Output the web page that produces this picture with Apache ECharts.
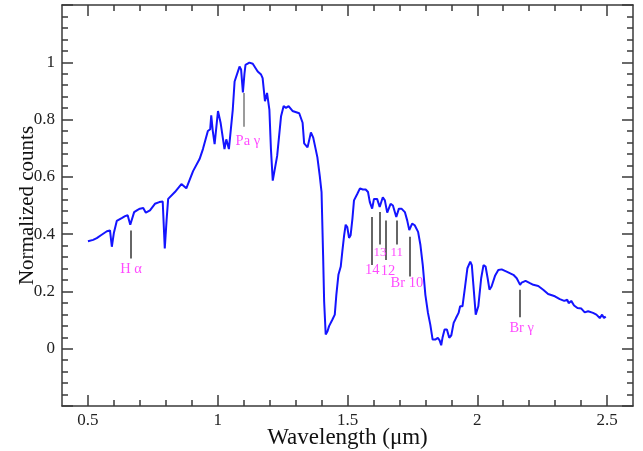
<!DOCTYPE html>
<html>
<head>
<meta charset="utf-8">
<title>Normalized spectrum</title>
<script src="https://cdn.jsdelivr.net/npm/echarts@6/dist/echarts.min.js"></script>
<style>
  html, body { margin: 0; padding: 0; background: #ffffff; }
  #chart { width: 643px; height: 451px; }
</style>
</head>
<body>
<div id="chart"></div>
<script>
// Spectrum: wavelength (µm) and normalized counts
const wavelength = [
  0.500, 0.520, 0.534, 0.550, 0.573, 0.585, 0.592, 0.600, 0.611, 0.630,
  0.643, 0.653, 0.663, 0.678, 0.690, 0.700, 0.713, 0.723, 0.739, 0.758,
  0.775, 0.788, 0.796, 0.803, 0.809, 0.835, 0.860, 0.879, 0.905, 0.930,
  0.943, 0.962, 0.971, 0.975, 0.981, 0.988, 1.001, 1.011, 1.026, 1.033,
  1.043, 1.058, 1.065, 1.084, 1.090, 1.097, 1.103, 1.107, 1.122, 1.135,
  1.154, 1.167, 1.173, 1.182, 1.190, 1.199, 1.205, 1.212, 1.218, 1.229,
  1.235, 1.244, 1.254, 1.263, 1.273, 1.288, 1.314, 1.327, 1.333, 1.346,
  1.359, 1.368, 1.384, 1.393, 1.400, 1.406, 1.410, 1.416, 1.423, 1.429,
  1.436, 1.442, 1.451, 1.457, 1.465, 1.474, 1.480, 1.487, 1.493, 1.499,
  1.506, 1.512, 1.519, 1.525, 1.538, 1.548, 1.559, 1.570, 1.579, 1.586,
  1.595, 1.602, 1.614, 1.624, 1.636, 1.644, 1.653, 1.666, 1.675, 1.688,
  1.698, 1.708, 1.721, 1.730, 1.738, 1.749, 1.759, 1.772, 1.781, 1.790,
  1.800, 1.810, 1.819, 1.828, 1.838, 1.848, 1.855, 1.861, 1.866, 1.874,
  1.883, 1.892, 1.900, 1.909, 1.918, 1.928, 1.934, 1.943, 1.953, 1.962,
  1.973, 1.979, 1.985, 1.994, 2.004, 2.015, 2.024, 2.032, 2.040, 2.047,
  2.055, 2.069, 2.081, 2.094, 2.113, 2.139, 2.152, 2.165, 2.171, 2.186,
  2.203, 2.216, 2.235, 2.254, 2.273, 2.299, 2.318, 2.335, 2.347, 2.352,
  2.362, 2.373, 2.386, 2.401, 2.414, 2.427, 2.446, 2.459, 2.472, 2.481,
  2.488, 2.495
];
const counts = [
  0.375, 0.380, 0.386, 0.396, 0.410, 0.413, 0.356, 0.405, 0.446, 0.456,
  0.463, 0.466, 0.433, 0.477, 0.484, 0.489, 0.491, 0.475, 0.483, 0.506,
  0.512, 0.514, 0.350, 0.450, 0.523, 0.547, 0.575, 0.560, 0.620, 0.662,
  0.697, 0.760, 0.766, 0.815, 0.760, 0.714, 0.830, 0.789, 0.697, 0.731,
  0.697, 0.835, 0.933, 0.985, 0.975, 0.895, 0.960, 0.991, 0.999, 0.995,
  0.968, 0.957, 0.945, 0.864, 0.893, 0.835, 0.697, 0.587, 0.587, 0.673,
  0.668, 0.812, 0.847, 0.841, 0.847, 0.830, 0.822, 0.789, 0.717, 0.703,
  0.755, 0.737, 0.668, 0.604, 0.547, 0.327, 0.165, 0.050, 0.061, 0.079,
  0.075, 0.102, 0.119, 0.188, 0.258, 0.287, 0.339, 0.396, 0.433, 0.425,
  0.387, 0.396, 0.454, 0.518, 0.541, 0.560, 0.556, 0.556, 0.547, 0.512,
  0.489, 0.523, 0.523, 0.495, 0.529, 0.518, 0.475, 0.506, 0.500, 0.460,
  0.489, 0.489, 0.477, 0.448, 0.414, 0.437, 0.431, 0.408, 0.362, 0.292,
  0.188, 0.125, 0.084, 0.032, 0.032, 0.038, 0.029, 0.012, 0.038, 0.067,
  0.067, 0.038, 0.047, 0.090, 0.107, 0.125, 0.148, 0.148, 0.217, 0.281,
  0.304, 0.292, 0.223, 0.119, 0.148, 0.246, 0.292, 0.287, 0.246, 0.206,
  0.217, 0.256, 0.275, 0.277, 0.269, 0.258, 0.246, 0.223, 0.231, 0.237,
  0.229, 0.223, 0.219, 0.206, 0.191, 0.183, 0.173, 0.167, 0.171, 0.159,
  0.167, 0.151, 0.142, 0.140, 0.127, 0.131, 0.125, 0.119, 0.107, 0.119,
  0.107, 0.112
];

// Line identifications: marker wavelength, marker extent, label anchor
const lineNames   = ['H α', 'Pa γ', '14', '13', '12', '11', 'Br 10', 'Br γ'];
const lineWave    = [0.664, 1.099, 1.595, 1.625, 1.649, 1.688, 1.738, 2.162];
const markerTop   = [0.413, 0.893, 0.460, 0.477, 0.448, 0.448, 0.391, 0.206];
const markerBot   = [0.315, 0.775, 0.292, 0.364, 0.310, 0.364, 0.252, 0.110];
const labelWave   = [0.666, 1.116, 1.595, 1.625, 1.656, 1.690, 1.729, 2.171];
const labelLevel  = [0.277, 0.726, 0.273, 0.335, 0.269, 0.335, 0.229, 0.073];

// Axis ticks
const xMajorTicks = [0.5, 1, 1.5, 2, 2.5];
const xMinorTicks = [0.6, 0.7, 0.8, 0.9, 1.1, 1.2, 1.3, 1.4, 1.6, 1.7, 1.8, 1.9,
                     2.1, 2.2, 2.3, 2.4];
const xRange = [0.4, 2.6];
const yRange = [-0.2, 1.2];
const yStep = 0.2;

const serif = "'Liberation Serif', 'Times New Roman', serif";
const frameColor = '#3a3a3a';
const smallLabels = ['13', '11'];

function xAxisDef(position, ticks, tickLen, showLine, labels) {
  return {
    type: 'value', position: position, min: xRange[0], max: xRange[1],
    axisLine: { show: showLine, onZero: false, lineStyle: { color: frameColor, width: 1.5 } },
    axisTick: { show: true, inside: true, length: tickLen, customValues: ticks,
                lineStyle: { color: frameColor, width: 1.5 } },
    axisLabel: labels ? {
      show: true, customValues: ticks, margin: 6,
      fontFamily: serif, fontSize: 17, color: '#222'
    } : { show: false },
    splitLine: { show: false }
  };
}

function yAxisDef(position, labels) {
  return {
    type: 'value', position: position, min: yRange[0], max: yRange[1], interval: yStep,
    axisLine: { show: true, onZero: false, lineStyle: { color: frameColor, width: 1.5 } },
    axisTick: { show: true, inside: true, length: 11, lineStyle: { color: frameColor, width: 1.5 } },
    minorTick: { show: true, splitNumber: 5, length: 6, lineStyle: { color: frameColor, width: 1.5 } },
    axisLabel: labels ? {
      show: true, margin: 7, showMinLabel: false, showMaxLabel: false,
      fontFamily: serif, fontSize: 17, color: '#222'
    } : { show: false },
    splitLine: { show: false },
    minorSplitLine: { show: false }
  };
}

const xBottom = xAxisDef('bottom', xMajorTicks, 11, true, true);
xBottom.name = 'Wavelength (μm)';
xBottom.nameLocation = 'middle';
xBottom.nameGap = 20;
xBottom.nameMoveOverlap = false;
xBottom.nameTextStyle = { fontFamily: serif, fontSize: 23, color: '#111', verticalAlign: 'top' };

const yLeft = yAxisDef('left', true);
yLeft.name = 'Normalized counts';
yLeft.nameLocation = 'middle';
yLeft.nameGap = 24;
yLeft.nameRotate = 90;
yLeft.nameMoveOverlap = false;
yLeft.nameTextStyle = { fontFamily: serif, fontSize: 21, color: '#111' };

const spectrum = wavelength.map((w, i) => [w, counts[i]]);

const markerLines = lineWave.map((w, i) => ({
  coords: [[w, markerTop[i]], [w, markerBot[i]]],
  lineStyle: { color: lineNames[i] === 'Pa γ' ? '#7a7a7a' : '#333333' }
}));

const markerLabels = lineNames.map((n, i) => ({
  name: n,
  value: [labelWave[i], labelLevel[i]],
  label: { fontSize: smallLabels.includes(n) ? 13 : 14.5 }
}));

const chart = echarts.init(document.getElementById('chart'), null, { renderer: 'canvas' });
chart.setOption({
  animation: false,
  backgroundColor: '#ffffff',
  grid: { left: 62, right: 10, top: 5, bottom: 45, containLabel: false, outerBoundsMode: 'none' },
  xAxis: [
    xBottom,
    xAxisDef('bottom', xMinorTicks, 6, false, false),
    xAxisDef('top', xMajorTicks, 11, true, false),
    xAxisDef('top', xMinorTicks, 6, false, false)
  ],
  yAxis: [
    yLeft,
    yAxisDef('right', false)
  ],
  series: [
    {
      type: 'line',
      xAxisIndex: 0, yAxisIndex: 0,
      data: spectrum,
      showSymbol: false,
      symbol: 'none',
      lineStyle: { color: '#1414ff', width: 2 },
      z: 3
    },
    {
      type: 'lines',
      coordinateSystem: 'cartesian2d',
      xAxisIndex: 0, yAxisIndex: 0,
      data: markerLines,
      lineStyle: { width: 1.5, opacity: 1 },
      z: 2
    },
    {
      type: 'scatter',
      xAxisIndex: 0, yAxisIndex: 0,
      data: markerLabels,
      symbolSize: 0,
      label: {
        show: true, position: 'inside', formatter: p => p.name,
        fontFamily: serif, color: '#ff1eff'
      },
      z: 4
    }
  ]
});
</script>
</body>
</html>
